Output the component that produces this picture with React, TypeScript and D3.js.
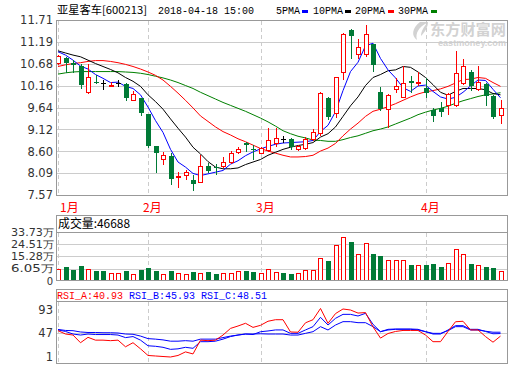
import React from "react";
import * as d3 from "d3";

const dates = [
  "2018-01-16","2018-01-17","2018-01-18","2018-01-19","2018-01-22","2018-01-23","2018-01-24","2018-01-25","2018-01-26","2018-01-29","2018-01-30","2018-01-31",
  "2018-02-01","2018-02-02","2018-02-05","2018-02-06","2018-02-07","2018-02-08","2018-02-09","2018-02-12","2018-02-13","2018-02-14",
  "2018-02-22","2018-02-23","2018-02-26","2018-02-27","2018-02-28",
  "2018-03-01","2018-03-02","2018-03-05","2018-03-06","2018-03-07","2018-03-08","2018-03-09","2018-03-12","2018-03-13","2018-03-14","2018-03-15","2018-03-16",
  "2018-03-19","2018-03-20","2018-03-21","2018-03-22","2018-03-23","2018-03-26","2018-03-27","2018-03-28","2018-03-29","2018-03-30",
  "2018-04-02","2018-04-03","2018-04-04","2018-04-09","2018-04-10","2018-04-11","2018-04-12","2018-04-13","2018-04-16","2018-04-17","2018-04-18",
];

const opens = [10.70,10.80,10.70,10.62,10.01,10.25,10.21,10.16,10.21,10.20,9.82,9.86,9.48,8.73,8.41,8.49,7.99,8.04,7.92,7.87,8.26,8.24,8.26,8.36,8.58,8.79,8.67,8.57,8.63,8.81,8.90,8.89,8.67,8.69,8.89,9.03,9.87,9.50,10.49,11.47,10.90,10.90,11.14,10.01,9.60,10.07,9.90,10.27,10.24,10.11,9.58,9.62,9.70,9.70,10.21,10.47,10.07,10.19,9.91,9.46];
const highs = [10.88,10.83,10.76,10.68,10.68,10.41,10.29,10.25,10.29,10.21,10.04,9.87,9.48,8.73,8.59,8.57,8.12,8.16,8.04,8.52,8.32,8.30,8.48,8.60,8.71,8.83,8.75,8.71,9.15,9.15,8.97,8.91,8.75,8.95,9.13,10.01,9.90,10.37,11.41,11.49,11.26,11.59,11.14,10.13,9.97,10.33,10.61,10.39,10.49,10.33,9.64,9.78,9.99,10.98,10.78,10.53,10.62,10.23,9.93,9.82];
const lows = [10.68,10.49,10.49,10.11,9.99,10.21,10.07,10.15,10.16,9.82,9.82,9.46,8.70,8.12,8.30,7.82,7.75,7.96,7.69,7.87,8.12,8.06,8.24,8.32,8.57,8.60,8.41,8.56,8.61,8.73,8.83,8.67,8.63,8.67,8.87,8.99,9.36,9.42,10.31,10.80,10.80,10.86,10.51,9.58,9.19,10.01,9.88,10.01,10.17,9.90,9.32,9.44,9.49,9.68,10.19,10.05,10.05,9.70,9.38,9.28];
const closes = [10.86,10.70,10.65,10.17,10.37,10.23,10.21,10.18,10.21,9.87,9.96,9.50,8.73,8.57,8.51,7.94,8.02,8.11,7.82,8.26,8.14,8.20,8.34,8.56,8.67,8.75,8.63,8.69,8.86,8.91,8.90,8.71,8.73,8.89,9.06,9.98,9.42,10.35,11.39,11.32,11.06,11.39,10.65,9.60,9.93,10.15,10.23,10.21,10.25,9.99,9.44,9.54,9.97,10.45,10.62,10.15,10.25,9.91,9.41,9.62];

// volume in 手
const volumes = [61000,73000,48000,81000,61000,40000,40000,30000,30000,40000,23000,48000,66000,40000,23000,40000,30000,23000,35000,30000,35000,23000,30000,30000,40000,40000,35000,30000,61000,35000,30000,23000,30000,53000,53000,145000,117000,238000,297000,259000,175000,251000,175000,155000,124000,124000,129000,86000,86000,86000,99000,73000,107000,213000,175000,99000,92000,73000,66000,46688];

const ma5 = [10.96,10.88,10.76,10.62,10.55,10.42,10.33,10.23,10.24,10.14,10.09,9.94,9.65,9.33,9.05,8.65,8.35,8.23,8.08,8.03,8.07,8.11,8.15,8.30,8.38,8.50,8.59,8.66,8.72,8.77,8.80,8.81,8.82,8.83,8.86,9.07,9.22,9.54,10.04,10.49,10.71,11.10,11.16,10.80,10.53,10.34,10.11,10.02,10.15,10.17,10.02,9.89,9.84,9.88,10.00,10.15,10.29,10.28,10.07,9.87];
const ma10 = [10.98,10.93,10.88,10.84,10.76,10.68,10.61,10.54,10.46,10.35,10.26,10.14,9.94,9.78,9.60,9.37,9.15,8.94,8.70,8.54,8.36,8.23,8.19,8.19,8.21,8.29,8.35,8.41,8.51,8.58,8.65,8.70,8.74,8.77,8.81,8.94,9.02,9.18,9.43,9.68,9.89,10.16,10.35,10.42,10.51,10.53,10.61,10.59,10.48,10.35,10.18,10.00,9.93,10.02,10.09,10.09,10.09,10.06,9.97,9.94];
const ma20 = [10.61,10.65,10.68,10.70,10.73,10.75,10.75,10.73,10.70,10.66,10.61,10.55,10.48,10.40,10.29,10.14,9.98,9.81,9.63,9.44,9.31,9.18,9.07,8.99,8.90,8.83,8.75,8.67,8.61,8.56,8.51,8.47,8.47,8.48,8.51,8.61,8.68,8.79,8.97,9.13,9.27,9.43,9.55,9.60,9.66,9.73,9.81,9.89,9.96,10.01,10.04,10.08,10.14,10.22,10.30,10.31,10.35,10.33,10.23,10.14];
const ma30 = [10.43,10.46,10.48,10.49,10.49,10.49,10.49,10.49,10.49,10.48,10.47,10.45,10.42,10.38,10.34,10.29,10.23,10.16,10.09,10.00,9.92,9.84,9.76,9.69,9.62,9.55,9.47,9.39,9.30,9.20,9.09,9.02,8.96,8.92,8.87,8.86,8.84,8.84,8.88,8.93,8.97,9.03,9.09,9.13,9.18,9.25,9.32,9.39,9.47,9.53,9.58,9.62,9.67,9.74,9.80,9.85,9.90,9.94,9.96,9.99];

const rsiA = [51.6,45,43,28,38.5,33,33,32,33,20,28,16,3,2,1,0,3,10,6,33,32,33,43,56,60.7,66,58,62,70,73,73,49,48.5,67,73,95,66,85,94,92,86,87,59,37,46,50,52,52,52,43,30,30,50,69,70,53,53,40,29,40.93];
const rsiB = [53,50,45,43,45,44,44,44,43,38,40,33,22,21,19,15,16,19,17,30,30,31,35,40,43,45,44,49.5,51,53,53,46.3,46.3,53,59.4,77.7,62.6,75.7,83.5,83.5,80.3,85.5,64,49.6,54.2,54.8,54.8,54.8,54.2,49.6,45,45,52.9,61.4,61.4,54.2,54.2,50,45.5,45.93];
const rsiC = [54,52,51.5,49,48,48,47.5,47.5,47,45,44.5,41,36,35,33.5,31,31,32,31,35,35,35,38,41,43,45,45,45.5,45,45,45,43,43,46.3,49.6,59.4,52.9,62.6,69.2,69.2,67.2,67.2,59.4,49.6,52.9,54.2,54.2,54.2,52.9,49.6,46.3,46.3,51.6,59.4,59.4,52.9,52.9,50.5,48.5,48.51];

const priceTicks = [11.71, 11.19, 10.68, 10.16, 9.64, 9.12, 8.60, 8.09, 7.57];
const volumeTicks = [33.73, 24.51, 15.28, 6.05]; // 万
const rsiTicks = [93, 47, 1];

const RED = "#ff0000";
const GREEN = "#007a36";
const BLUE = "#0000ff";
const GRID = "#cccccc";
const BORDER = "#999999";
const LABEL = "#333333";

export default function App() {
  const n = closes.length;
  const x = d3.scaleLinear().domain([0, n - 1]).range([58, 500.5]);
  const cx = (i: number) => Math.round(x(i));
  const yP = d3.scaleLinear().domain([7.57, 11.71]).range([195, 20]);
  const yV = d3.scaleLinear().domain([-3.18, 33.73]).range([281, 232]);
  const yR = d3.scaleLinear().domain([1, 93]).range([356.5, 309.5]);

  const L = 56.5, R = 507.5;

  const monthStarts: number[] = [];
  dates.forEach((d, i) => {
    if (i === 0 || d.slice(5, 7) !== dates[i - 1].slice(5, 7)) monthStarts.push(i);
  });

  const priceLine = d3.line<number>().x((_, i) => x(i)).y((d) => yP(d));
  const rsiLine = d3.line<number>().x((_, i) => x(i)).y((d) => yR(d));

  const monoFont = "'Liberation Mono', 'DejaVu Sans Mono', monospace";
  const cjkFont = "'Noto Sans CJK SC', 'DejaVu Sans', sans-serif";
  const axisFont = "'DejaVu Sans', sans-serif";

  const vDashes = (y1: number, y2: number, key: string) =>
    monthStarts.map((i) => (
      <line key={key + i} x1={cx(i) + 0.5} x2={cx(i) + 0.5} y1={y1} y2={y2}
        stroke={GRID} strokeDasharray="4,3" />
    ));

  return (
    <svg width={520} height={365} style={{ position: "absolute", left: 0, top: 0, background: "#fff" }}
      xmlns="http://www.w3.org/2000/svg">
      <rect x={0} y={0} width={520} height={365} fill="#fff" />

      {/* header */}
      <text x={57} y={14} fontSize={11} fontFamily={cjkFont} fill="#000" textLength={90} lengthAdjust="spacingAndGlyphs">亚星客车[600213]</text>
      <text x={158} y={14} fontSize={10} fontFamily={monoFont} fill="#000" textLength={96} lengthAdjust="spacingAndGlyphs">2018-04-18 15:00</text>
      {[
        { t: "5PMA", x0: 276, w: 24, c: BLUE, m: 302 },
        { t: "10PMA", x0: 313, w: 30, c: "#000", m: 345 },
        { t: "20PMA", x0: 355, w: 30, c: RED, m: 388 },
        { t: "30PMA", x0: 398, w: 30, c: "#008000", m: 431 },
      ].map((d) => (
        <g key={d.t}>
          <text x={d.x0} y={14} fontSize={10} fontFamily={monoFont} fill="#000" textLength={d.w} lengthAdjust="spacingAndGlyphs">{d.t}</text>
          <rect x={d.m} y={10} width={6} height={3} fill={d.c} />
        </g>
      ))}

      {/* watermark */}
      <g fill="#d2d2d2">
        <path d="M420,22 C412,28 411,36 417,40 C415,33 419,27 427,23 C424,27 421,31 421,36 C425,32 428,27 428,22 Z" />
        <text x={430} y={35} fontSize={15} fontWeight="bold" fontFamily={cjkFont} textLength={76} lengthAdjust="spacingAndGlyphs">东方财富网</text>
        <text x={438} y={46} fontSize={9} fontWeight="bold" fontFamily="'Liberation Sans', sans-serif" textLength={68} lengthAdjust="spacingAndGlyphs">eastmoney.com</text>
      </g>

      {/* main panel grid */}
      {priceTicks.map((t) => (
        <line key={"pg" + t} x1={L} x2={R} y1={Math.round(yP(t)) + 0.5} y2={Math.round(yP(t)) + 0.5} stroke={GRID} />
      ))}
      {vDashes(21, 195, "mv")}
      {priceTicks.map((t) => (
        <text key={"pt" + t} x={53} y={yP(t)} dy="0.36em" textAnchor="end" fontSize={11.5} fontFamily={axisFont} fill={LABEL}>
          {t.toFixed(2)}
        </text>
      ))}

      {/* MA lines */}
      <path d={priceLine(ma30) || ""} fill="none" stroke="#008000" strokeWidth={1} />
      <path d={priceLine(ma20) || ""} fill="none" stroke={RED} strokeWidth={1} />
      <path d={priceLine(ma10) || ""} fill="none" stroke="#000" strokeWidth={1} />
      <path d={priceLine(ma5) || ""} fill="none" stroke={BLUE} strokeWidth={1} />

      {/* candles */}
      {closes.map((c, i) => {
        const o = opens[i];
        const X = cx(i);
        const doji = c === o;
        const up = c > o;
        const color = doji ? "#000" : up ? RED : GREEN;
        const t = Math.round(yP(Math.max(o, c)));
        const b = Math.round(yP(Math.min(o, c)));
        const hy = Math.round(yP(highs[i]));
        const ly = Math.round(yP(lows[i]));
        return (
          <g key={"c" + i}>
            <line x1={X + 0.5} x2={X + 0.5} y1={hy} y2={ly + 1} stroke={color} />
            {doji ? (
              <line x1={X - 2} x2={X + 3} y1={t + 0.5} y2={t + 0.5} stroke="#000" />
            ) : up ? (
              <rect x={X - 1.5} y={t + 0.5} width={4} height={Math.max(b - t, 1)} fill="#fff" stroke={RED} />
            ) : (
              <rect x={X - 2} y={t} width={5} height={Math.max(b - t, 1)} fill={GREEN} />
            )}
          </g>
        );
      })}

      <rect x={L} y={20.5} width={R - L} height={175} fill="none" stroke={BORDER} />

      {/* month labels */}
      {monthStarts.map((i, k) => (
        <text key={"ml" + i} x={k === 0 ? 60 : cx(i) - 5} y={212} fontSize={12} fontFamily={cjkFont} fill={RED}>
          {dates[i].slice(5, 7).replace(/^0/, "") + "月"}
        </text>
      ))}

      {/* volume panel */}
      {volumeTicks.slice(1).map((t) => (
        <line key={"vg" + t} x1={L} x2={R} y1={Math.round(yV(t)) + 0.5} y2={Math.round(yV(t)) + 0.5} stroke={GRID} />
      ))}
      {vDashes(233, 280, "vv")}
      {volumes.map((vol, i) => {
        const v = vol / 10000;
        const o = opens[i], c = closes[i];
        const up = c > o || (c === o && i > 0 && c >= closes[i - 1]);
        const X = cx(i);
        const top = Math.round(yV(v));
        return up ? (
          <rect key={"v" + i} x={X - 1.5} y={top + 0.5} width={4} height={280 - top} fill="#fff" stroke={RED} />
        ) : (
          <rect key={"v" + i} x={X - 2} y={top} width={5} height={281 - top} fill={GREEN} />
        );
      })}
      <rect x={L} y={215.5} width={R - L} height={65} fill="none" stroke={BORDER} />
      <line x1={L} x2={R} y1={232.5} y2={232.5} stroke={BORDER} />
      <text x={58} y={228} fontSize={12} fontFamily={cjkFont} fill="#000" textLength={72} lengthAdjust="spacingAndGlyphs">
        成交量:{volumes[n - 1]}
      </text>
      {volumeTicks.map((t) => (
        <text key={"vt" + t} x={54} y={yV(t)} dy="0.36em" textAnchor="end" fontSize={10} fontFamily={axisFont} fill={LABEL}
          textLength={43} lengthAdjust="spacingAndGlyphs">
          {t.toFixed(2)}万
        </text>
      ))}
      <text x={53} y={281} dy="0.36em" textAnchor="end" fontSize={10} fontFamily={axisFont} fill={LABEL}>0</text>

      {/* RSI panel */}
      <line x1={L} x2={R} y1={Math.round(yR(47)) + 0.5} y2={Math.round(yR(47)) + 0.5} stroke={GRID} />
      {vDashes(302, 363, "rv")}
      <path d={rsiLine(rsiC) || ""} fill="none" stroke={BLUE} strokeWidth={1} />
      <path d={rsiLine(rsiB) || ""} fill="none" stroke={BLUE} strokeWidth={1} />
      <path d={rsiLine(rsiA) || ""} fill="none" stroke={RED} strokeWidth={1} />
      <rect x={L} y={289.5} width={R - L} height={74} fill="none" stroke={BORDER} />
      <line x1={L} x2={R} y1={301.5} y2={301.5} stroke={BORDER} />
      <text x={57} y={298.5} fontSize={10} fontFamily={monoFont} fill={RED} textLength={66} lengthAdjust="spacingAndGlyphs">
        RSI_A:{rsiA[n - 1].toFixed(2)}
      </text>
      <text x={129} y={298.5} fontSize={10} fontFamily={monoFont} fill={BLUE} textLength={66} lengthAdjust="spacingAndGlyphs">
        RSI_B:{rsiB[n - 1].toFixed(2)}
      </text>
      <text x={201} y={298.5} fontSize={10} fontFamily={monoFont} fill={BLUE} textLength={66} lengthAdjust="spacingAndGlyphs">
        RSI_C:{rsiC[n - 1].toFixed(2)}
      </text>
      {rsiTicks.map((t) => (
        <text key={"rt" + t} x={53} y={yR(t)} dy="0.36em" textAnchor="end" fontSize={11.5} fontFamily={axisFont} fill={LABEL}>
          {t}
        </text>
      ))}
    </svg>
  );
}
